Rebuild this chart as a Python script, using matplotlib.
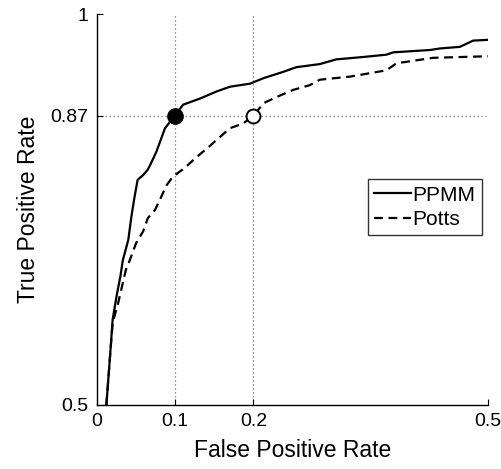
import matplotlib
matplotlib.use("Agg")
import matplotlib.pyplot as plt

plt.rcParams['font.family'] = ['Liberation Sans', 'DejaVu Sans']

# ROC curves
ppmm_fpr = [0.012, 0.016, 0.020, 0.025, 0.030, 0.033, 0.040, 0.044, 0.048, 0.052,
            0.059, 0.065, 0.069, 0.076, 0.087, 0.0997,
            0.110, 0.132, 0.153, 0.170, 0.196, 0.213, 0.238, 0.255, 0.285, 0.306,
            0.340, 0.370, 0.379, 0.426, 0.439, 0.464, 0.481, 0.500]
ppmm_tpr = [0.500, 0.553, 0.609, 0.639, 0.665, 0.685, 0.711, 0.741, 0.766, 0.788,
            0.794, 0.801, 0.809, 0.824, 0.854, 0.870,
            0.884, 0.892, 0.901, 0.907, 0.911, 0.918, 0.926, 0.932, 0.936, 0.942,
            0.945, 0.948, 0.951, 0.954, 0.956, 0.958, 0.966, 0.967]
potts_fpr = [0.012, 0.016, 0.020, 0.027, 0.033, 0.037, 0.040, 0.050, 0.059, 0.065,
             0.074, 0.082, 0.089, 0.097, 0.112,
             0.125, 0.144, 0.170, 0.187, 0.200, 0.213, 0.230, 0.251, 0.272, 0.285,
             0.324, 0.370, 0.383, 0.430, 0.500]
potts_tpr = [0.500, 0.553, 0.605, 0.630, 0.656, 0.673, 0.680, 0.707, 0.722, 0.739,
             0.749, 0.766, 0.781, 0.792, 0.803,
             0.815, 0.831, 0.854, 0.860, 0.870, 0.886, 0.894, 0.903, 0.909, 0.916,
             0.920, 0.928, 0.937, 0.944, 0.946]

op_tpr = 0.87
ppmm_op = 0.1
potts_op = 0.2

xticks = [0, 0.1, 0.2, 0.5]
yticks = [0.5, 0.87, 1]

fig = plt.figure(figsize=(5.02, 4.69), dpi=100)
ax = fig.add_axes([0.1932, 0.1365, 0.9721 - 0.1932, 0.9701 - 0.1365])

# reference lines
dot = dict(color='0.45', lw=0.9, linestyle=(0, (1, 2.2)), zorder=1)
ax.plot([ppmm_op, ppmm_op], [0.5, 1], **dot)
ax.plot([potts_op, potts_op], [0.5, 1], **dot)
ax.plot([0, 0.497], [op_tpr, op_tpr], **dot)

ax.plot(ppmm_fpr, ppmm_tpr, color='black', lw=1.6, label='PPMM', zorder=3)
ax.plot(potts_fpr, potts_tpr, color='black', lw=1.6, dashes=(4, 2.5), label='Potts', zorder=3)

ax.plot(ppmm_op, op_tpr, 'o', ms=11, color='black', zorder=4)
ax.plot(potts_op, op_tpr, 'o', ms=10, mfc='white', mec='black', mew=1.4, zorder=4)

ax.set_xlim(0, 0.5)
ax.set_ylim(0.5, 1)
ax.set_xticks(xticks)
ax.set_xticklabels(['0', '0.1', '0.2', '0.5'])
ax.set_yticks(yticks)
ax.set_yticklabels(['0.5', '0.87', '1'])
ax.tick_params(direction='in', length=4, width=0.8, labelsize=14, pad=6)
for s in ['top', 'right']:
    ax.spines[s].set_visible(False)
for s in ['left', 'bottom']:
    ax.spines[s].set_linewidth(1.0)

ax.set_xlabel('False Positive Rate', fontsize=16.5, labelpad=6)
ax.set_ylabel('True Positive Rate', fontsize=16.5, labelpad=8)

leg = ax.legend(loc='upper left', bbox_to_anchor=(0.693, 0.577), fontsize=15,
                frameon=True, fancybox=False, handlelength=1.75, handletextpad=0.1,
                borderpad=0.3, labelspacing=0.25, borderaxespad=0)
leg.get_frame().set_edgecolor('black')
leg.get_frame().set_linewidth(1.0)

fig.savefig('out.png', dpi=100)
